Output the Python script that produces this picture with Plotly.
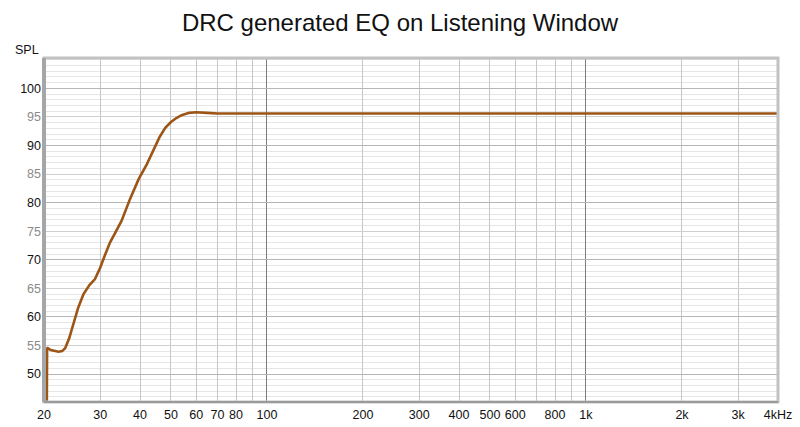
import math
import plotly.graph_objects as go

# ---- data ----
freq_hz = [20.35, 20.45, 21.0, 21.6, 22.2, 22.8, 23.3, 24.0, 24.8, 25.6, 26.6, 27.8,
           28.9, 30.0, 31.0, 32.2, 33.5, 35.0, 37.2, 39.6, 42.0, 44.0, 46.0, 48.0,
           50.0, 52.0, 54.0, 57.0, 60.0, 65.0, 70.0, 80.0, 100.0, 150.0, 200.0,
           300.0, 500.0, 700.0, 1000.0, 1500.0, 2000.0, 3000.0, 4000.0]
spl_db = [30.0, 54.6, 54.2, 54.0, 53.9, 54.0, 54.5, 56.3, 58.8, 61.6, 64.0, 65.6,
          66.6, 68.6, 70.7, 73.0, 74.8, 76.8, 80.6, 84.1, 86.7, 89.0, 91.4, 93.1,
          94.1, 94.8, 95.3, 95.7, 95.8, 95.7, 95.6, 95.6, 95.6, 95.6, 95.6,
          95.6, 95.6, 95.6, 95.6, 95.6, 95.6, 95.6, 95.6]

x_tick_vals = [20, 30, 40, 50, 60, 70, 80, 90, 100, 200, 300, 400, 500, 600, 700,
               800, 900, 1000, 2000, 3000, 4000]
x_tick_text = ["20", "30", "40", "50", "60", "70", "80", "", "100", "200", "300",
               "400", "500", "600", "", "800", "", "1k", "2k", "3k", "4kHz"]
y_tick_vals = [50, 55, 60, 65, 70, 75, 80, 85, 90, 95, 100]

title_text = "DRC generated EQ on Listening Window"
y_label = "SPL"

FONT = "Arial, 'Liberation Sans', sans-serif"

y_tick_text = [
    (f"<span style='color:#111111'>{v}</span>" if v % 10 == 0
     else f"<span style='color:#8a8a8a'>{v}</span>")
    for v in y_tick_vals
]

xr = [math.log10(20), math.log10(4000)]
yr = [45.1, 105.3]

fig = go.Figure()
fig.add_trace(go.Scatter(
    x=freq_hz, y=spl_db, mode="lines",
    line=dict(color="#9c5516", width=2.6),
    hoverinfo="x+y", showlegend=False,
))
# helper (invisible) trace to activate overlay axes for darker grid lines
fig.add_trace(go.Scatter(
    x=[100], y=[100], xaxis="x2", yaxis="y2", mode="markers",
    marker=dict(opacity=0), hoverinfo="skip", showlegend=False,
))

fig.update_layout(
    width=800, height=427,
    margin=dict(l=44, r=22, t=58, b=25, autoexpand=False),
    paper_bgcolor="white", plot_bgcolor="white",
    font=dict(family=FONT, size=12, color="#111111"),
    title=dict(text=title_text, x=0.5, xanchor="center", y=0.948, yanchor="middle",
               automargin=False,
               font=dict(family=FONT, size=24, color="#111111")),
    xaxis=dict(
        type="log", range=xr, tickmode="array", tickvals=x_tick_vals,
        ticktext=x_tick_text, showgrid=True, gridcolor="#c6c6c6", gridwidth=1,
        zeroline=False, showline=False, ticks="", ticklabelstandoff=3,
        automargin=False,
        tickfont=dict(family=FONT, size=12.5, color="#111111"),
    ),
    yaxis=dict(
        range=yr, tickmode="array", tickvals=y_tick_vals, ticktext=y_tick_text,
        showgrid=True, gridcolor="#cfcfcf", gridwidth=1,
        minor=dict(tickmode="linear", tick0=45, dtick=1, showgrid=True,
                   gridcolor="#e6e6e6", gridwidth=1, ticks=""),
        zeroline=False, showline=False, ticks="", ticklabelstandoff=2,
        automargin=False,
        tickfont=dict(family=FONT, size=12.5),
    ),
    xaxis2=dict(
        type="log", range=xr, overlaying="x", tickmode="array",
        tickvals=[100, 1000], showticklabels=False, showgrid=True, automargin=False,
        gridcolor="#7c7c7c", gridwidth=1, zeroline=False, showline=False, ticks="",
    ),
    yaxis2=dict(
        range=yr, overlaying="y", tickmode="array", tickvals=[50, 60, 70, 80, 90, 100],
        showticklabels=False, showgrid=True, gridcolor="#b6b6b6", gridwidth=1,
        automargin=False,
        zeroline=False, showline=False, ticks="",
    ),
    annotations=[dict(
        text=y_label, xref="paper", yref="paper", x=-0.004, y=1.0, xanchor="right",
        yanchor="bottom", yshift=-1, showarrow=False,
        font=dict(family=FONT, size=12.5, color="#111111"),
    )],
    shapes=[
        dict(type="rect", xref="paper", yref="paper", x0=0, x1=1, y0=0, y1=1,
             line=dict(color="#c2c2c2", width=3), layer="above"),
        dict(type="line", xref="paper", yref="paper", x0=0, x1=0, y0=0, y1=1,
             line=dict(color="#a6a6a6", width=4), layer="above"),
        dict(type="line", xref="paper", yref="paper", x0=0, x1=1, y0=0, y1=0,
             line=dict(color="#9a9a9a", width=2), layer="above"),
    ],
)

fig.write_html(
    "out.html",
    config={"displayModeBar": False},
    post_script="document.body.style.margin='0';document.body.style.overflow='hidden';",
)
